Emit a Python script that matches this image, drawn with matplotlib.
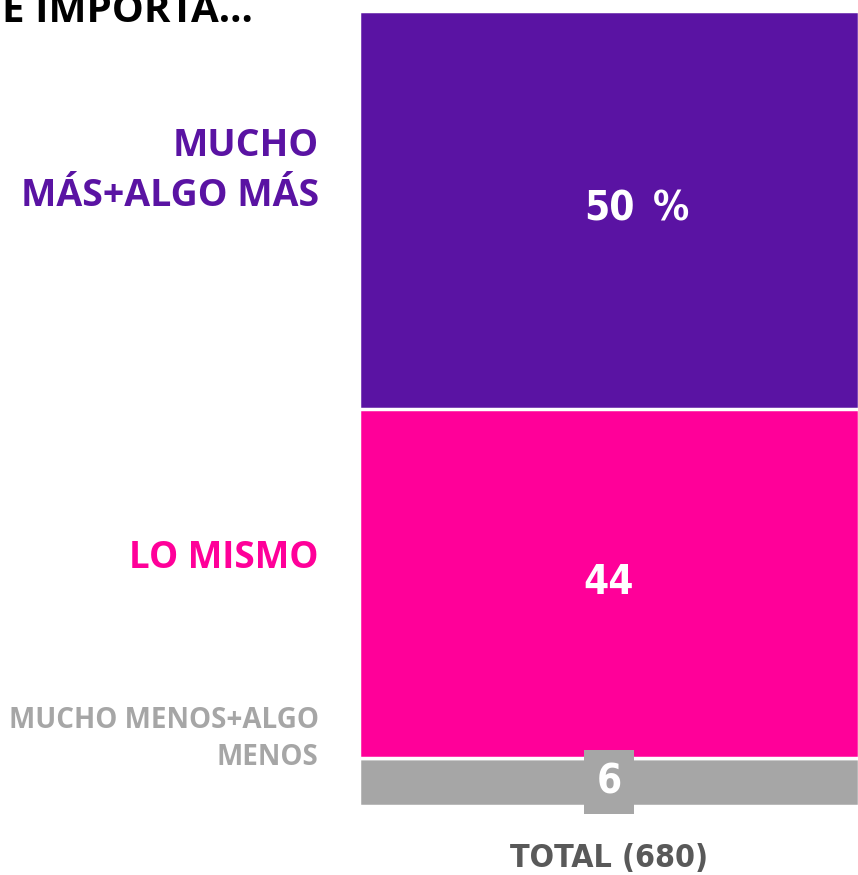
import matplotlib
matplotlib.use("Agg")
import matplotlib.pyplot as plt

# stacked shares, bottom to top
categories = ["MUCHO MENOS+ALGO\nMENOS", "LO MISMO", "MUCHO\nMÁS+ALGO MÁS"]
values = [6, 44, 50]
colors = ["#A6A6A6", "#FF0099", "#5A13A3"]
group_label = "TOTAL (680)"
title = "E IMPORTA..."

# label styling per segment (size in pt, vertical shift in pt)
label_sizes = [20, 26.5, 27]
label_shift = [31, 18, 28]

num_font = dict(family="DejaVu Sans", fontstretch="condensed", fontweight="bold")

fig = plt.figure(figsize=(8.58, 8.75), dpi=100)
ax = fig.add_axes([359 / 858, 69 / 875, 500 / 858, 795 / 875])

bottom = 0
for cat, val, col, fs, dy in zip(categories, values, colors, label_sizes, label_shift):
    ax.bar(0, val, bottom=bottom, width=1.0, color=col, edgecolor="white", linewidth=2.5)
    mid = bottom + val / 2
    # category name to the left of the bar
    ax.annotate(cat, xy=(-0.5, mid), xycoords="data", xytext=(-29, dy), textcoords="offset points",
                ha="right", va="center", fontsize=fs, fontweight="bold", color=col,
                family="Open Sans", linespacing=1.4, annotation_clip=False)
    bbox = None
    if val < 10:
        bbox = dict(boxstyle="square,pad=0.3", facecolor=col, edgecolor="none")
    ax.text(0, mid, str(val), ha="center", va="center", fontsize=29,
            color="white", bbox=bbox, **num_font)
    if cat == categories[-1]:
        ax.annotate("%", xy=(0, mid), xytext=(45, 0), textcoords="offset points",
                    ha="center", va="center", fontsize=29, color="white", **num_font)
    bottom += val

ax.set_xlim(-0.5, 0.5)
ax.set_ylim(0, 100)
ax.set_xticks([0])
ax.set_xticklabels([group_label], fontsize=23, color="#595959", **num_font)
ax.tick_params(axis="x", length=0, pad=27)
ax.set_yticks([])
for s in ax.spines.values():
    s.set_visible(False)

fig.text(0.002, 1 - 22 / 875, title, ha="left", va="baseline", fontsize=29,
         fontweight="bold", color="black", family="Open Sans")

fig.savefig("out.png", dpi=100)
